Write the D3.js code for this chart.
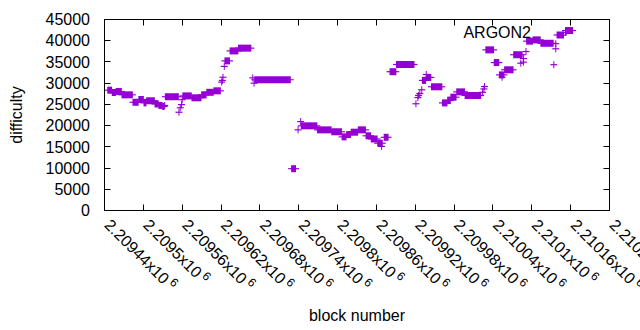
<!DOCTYPE html>
<html>
<head>
<meta charset="utf-8">
<script src="https://cdn.jsdelivr.net/npm/d3@7"></script>
<style>
  body { margin: 0; background: #fff; }
  text { font-family: "Liberation Sans", Arial, sans-serif; fill: #000; }
</style>
</head>
<body>
<script>
// runs of blocks with the same difficulty: [first block, last block, difficulty]
var runs = [
    [2209445, 2209451, 28350], [2209452, 2209457, 27800], [2209458, 2209466, 28050],
    [2209467, 2209483, 27250], [2209484, 2209492, 25500], [2209493, 2209500, 26150],
    [2209501, 2209504, 25350], [2209505, 2209517, 25850], [2209518, 2209523, 25100],
    [2209524, 2209529, 24750], [2209530, 2209532, 24500], [2209534, 2209554, 26800],
    [2209561, 2209574, 27000], [2209575, 2209589, 26550], [2209590, 2209597, 27250],
    [2209598, 2209608, 27850], [2209609, 2209619, 28200], [2209626, 2209633, 35250],
    [2209634, 2209646, 37600], [2209647, 2209666, 38250], [2209672, 2209727, 30800],
    [2209729, 2209735, 9850],  [2209744, 2209768, 19950], [2209769, 2209790, 19000],
    [2209791, 2209806, 18550], [2209807, 2209813, 17350], [2209814, 2209820, 17900],
    [2209821, 2209831, 18450], [2209832, 2209843, 19000], [2209844, 2209851, 17600],
    [2209852, 2209861, 16850], [2209862, 2209869, 15850], [2209872, 2209878, 17250],
    [2209881, 2209890, 32700], [2209891, 2209918, 34400], [2209931, 2209936, 30650],
    [2209937, 2209944, 31350], [2209945, 2209961, 29150], [2209962, 2209969, 25350],
    [2209970, 2209974, 25900], [2209975, 2209983, 26700], [2209984, 2209996, 27950],
    [2209997, 2210021, 27100], [2210029, 2210041, 37850], [2210042, 2210049, 34850],
    [2210050, 2210057, 31950], [2210058, 2210071, 33150], [2210072, 2210085, 36700],
    [2210092, 2210101, 39900], [2210102, 2210113, 40200], [2210114, 2210133, 39400],
    [2210139, 2210149, 41350], [2210152, 2210163, 42400]
];

// lone blocks: [block, difficulty]
var singles = [
    [2209533, 24750],
    [2209555, 23150], [2209557, 24200], [2209559, 24950], [2209560, 26100],
    [2209621, 30250], [2209622, 30650], [2209623, 31400], [2209625, 33950],
    [2209669, 31250], [2209671, 30000],
    [2209739, 19000], [2209743, 20950],
    [2209868, 15100],
    [2209921, 25150], [2209924, 26600], [2209925, 27100], [2209927, 27550], [2209930, 28450],
    [2209937, 32050],
    [2210024, 27850], [2210026, 28650], [2210027, 29200],
    [2210054, 31400],
    [2210083, 34700], [2210087, 34950], [2210087, 35800], [2210091, 37450],
    [2210134, 34350], [2210137, 38100], [2210137, 39300],
    [2210152, 41950]
];

var xTicks = [2209440, 2209500, 2209560, 2209620, 2209680, 2209740, 2209800,
              2209860, 2209920, 2209980, 2210040, 2210100, 2210160, 2210220];
var yTicks = [0, 5000, 10000, 15000, 20000, 25000, 30000, 35000, 40000, 45000];
var seriesName = 'ARGON2';

(function() {
    var width = 640;
    var height = 330;
    var pLeft = 104.5, pRight = 609.5, pTop = 19.5, pBottom = 210.5;
    var color = '#9400d3';
    var r = 3.5;    // half size of the + marker
    var tic = 6;

    var svg = d3.select('body').append('svg')
        .attr('width', width)
        .attr('height', height);

    var x = d3.scaleLinear().domain([xTicks[0], xTicks[xTicks.length - 1]]).range([pLeft, pRight]);
    var y = d3.scaleLinear().domain([0, 45000]).range([pBottom, pTop]);

    // ticks, mirrored on all four sides
    var ticG = svg.append('g').attr('stroke', '#000').attr('stroke-width', 1);
    yTicks.forEach(function(v) {
        var yy = Math.round(y(v) - 0.5) + 0.5;
        ticG.append('line').attr('x1', pLeft).attr('x2', pLeft + tic).attr('y1', yy).attr('y2', yy);
        ticG.append('line').attr('x1', pRight - tic).attr('x2', pRight).attr('y1', yy).attr('y2', yy);
    });
    xTicks.forEach(function(v) {
        var xx = Math.round(x(v) - 0.5) + 0.5;
        ticG.append('line').attr('x1', xx).attr('x2', xx).attr('y1', pBottom).attr('y2', pBottom - tic);
        ticG.append('line').attr('x1', xx).attr('x2', xx).attr('y1', pTop).attr('y2', pTop + tic);
    });

    svg.selectAll('.ylab')
        .data(yTicks)
        .enter()
        .append('text')
        .attr('class', 'ylab')
        .attr('x', 90)
        .attr('y', function(d) { return y(d); })
        .attr('dy', '0.36em')
        .attr('text-anchor', 'end')
        .attr('font-size', 16)
        .text(function(d) { return d; });

    var xl = svg.selectAll('.xlab')
        .data(xTicks)
        .enter()
        .append('text')
        .attr('class', 'xlab')
        .attr('font-size', 16)
        .attr('transform', function(d) { return 'translate(' + (x(d) - 1) + ',226) rotate(45)'; });
    xl.append('tspan').text(function(d) { return String(+(d / 1e6).toFixed(5)) + 'x10'; });
    xl.append('tspan').attr('dx', 3).attr('dy', -6).attr('font-size', 12).text('6');

    // the data: dense + markers merge into a bar with a thin line through it
    var marks = svg.append('g');
    var all = runs.concat(singles.map(function(s) { return [s[0], s[0], s[1]]; }));
    marks.selectAll('rect')
        .data(all)
        .enter()
        .append('rect')
        .attr('x', function(d) { return x(d[0]) - 0.5; })
        .attr('width', function(d) { return x(d[1]) - x(d[0]) + 1; })
        .attr('y', function(d) { return y(d[2]) - r; })
        .attr('height', 2 * r)
        .attr('fill', color);
    marks.selectAll('line')
        .data(all)
        .enter()
        .append('line')
        .attr('x1', function(d) { return x(d[0]) - r; })
        .attr('x2', function(d) { return x(d[1]) + r; })
        .attr('y1', function(d) { return y(d[2]); })
        .attr('y2', function(d) { return y(d[2]); })
        .attr('stroke', color)
        .attr('stroke-width', 1.2);

    // border
    svg.append('rect')
        .attr('x', pLeft).attr('y', pTop)
        .attr('width', pRight - pLeft).attr('height', pBottom - pTop)
        .attr('fill', 'none').attr('stroke', '#000').attr('stroke-width', 1);

    // key
    svg.append('text')
        .attr('x', 531).attr('y', 32).attr('dy', '0.36em')
        .attr('text-anchor', 'end')
        .attr('font-size', 16)
        .text(seriesName);

    svg.append('text')
        .attr('transform', 'translate(22,115) rotate(-90)')
        .attr('text-anchor', 'middle')
        .attr('font-size', 16)
        .text('difficulty');

    svg.append('text')
        .attr('x', (pLeft + pRight) / 2).attr('y', 321)
        .attr('text-anchor', 'middle')
        .attr('font-size', 16)
        .text('block number');
}());
</script>
</body>
</html>
